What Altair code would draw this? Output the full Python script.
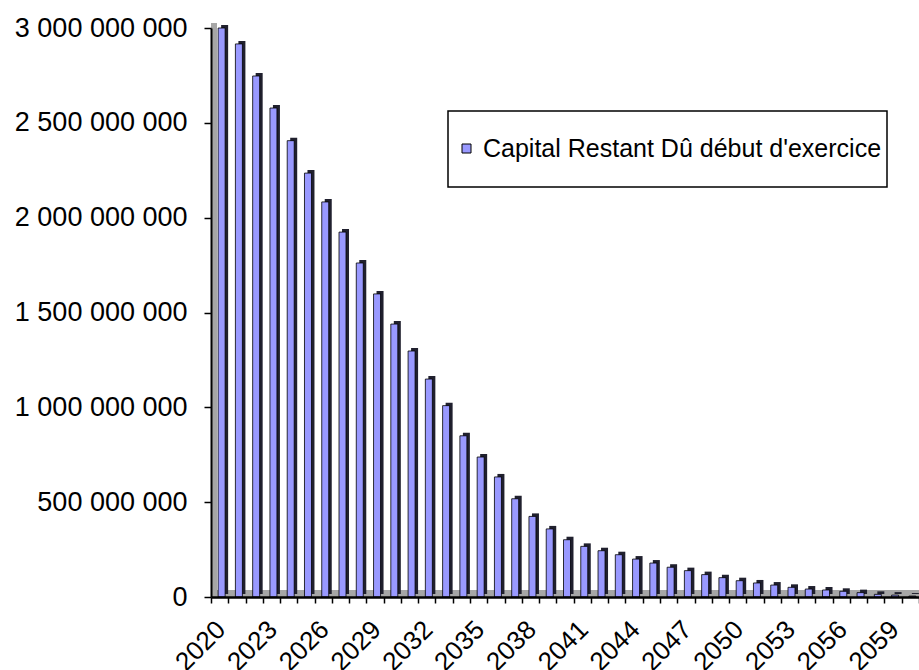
import altair as alt
import pandas as pd

# Capital restant dû en début d'exercice, par année
annees = list(range(2020, 2061))
capital_mds = [
    3.000, 2.916, 2.747, 2.578, 2.406, 2.235, 2.083, 1.924, 1.761, 1.598,
    1.439, 1.297, 1.149, 1.009, 0.850, 0.738, 0.633, 0.518, 0.425, 0.359,
    0.302, 0.267, 0.244, 0.223, 0.200, 0.179, 0.157, 0.139, 0.118, 0.102,
    0.086, 0.074, 0.063, 0.051, 0.042, 0.037, 0.030, 0.023, 0.014, 0.010,
    0.005,
]
serie = "Capital Restant Dû début d'exercice"
graduations = [0, 500_000_000, 1_000_000_000, 1_500_000_000,
               2_000_000_000, 2_500_000_000, 3_000_000_000]

df = pd.DataFrame({
    "annee": annees,
    "capital": [round(v * 1e9) for v in capital_mds],
    "serie": serie,
})

W, H = 708, 569
FONT = "Liberation Sans"

x_enc = alt.X(
    "annee:O",
    scale=alt.Scale(paddingInner=0, paddingOuter=0),
    axis=alt.Axis(
        title=None,
        labelExpr="(datum.value - 2020) % 3 == 0 ? datum.label : ''",
        labelAngle=-45,
        labelAlign="right",
        labelBaseline="top",
        labelFontSize=26,
        labelFont=FONT,
        labelColor="black",
        labelPadding=13,
        labelOffset=-8,
        labelOverlap=False,
        labelFlush=False,
        tickBand="extent",
        tickSize=6,
        tickColor="black",
        tickWidth=1.5,
        domainColor="black",
        domainWidth=2.5,
        zindex=2,
    ),
)
y_enc = alt.Y(
    "capital:Q",
    scale=alt.Scale(domain=[0, 3_000_000_000], nice=False),
    axis=alt.Axis(
        title=None,
        values=graduations,
        labelExpr="replace(format(datum.value, ','), regexp(',', 'g'), ' ')",
        labelFontSize=27,
        labelFont=FONT,
        labelColor="black",
        labelPadding=17,
        tickSize=7,
        tickColor="black",
        tickWidth=1.5,
        domainColor="black",
        domainWidth=2,
        grid=False,
        zindex=2,
    ),
)

base = alt.Chart(df)
one = alt.Chart(pd.DataFrame({"k": [0]}))

# sol et paroi gauche du graphique 3D
sol = one.mark_rect(color="#a6a6a6").encode(
    x=alt.value(0), x2=alt.value(W), y=alt.value(H - 7), y2=alt.value(H)
)
paroi = one.mark_rect(color="#a6a6a6").encode(
    x=alt.value(0), x2=alt.value(6), y=alt.value(-5), y2=alt.value(H)
)

# face latérale et dessus sombres des barres
profondeur = base.mark_bar(
    width=7, xOffset=5, yOffset=-3, color="#20202e"
).encode(x=x_enc, y=y_enc)

# face avant des barres
faces = base.mark_bar(
    width=7, xOffset=2, stroke="black", strokeWidth=0.8
).encode(
    x=x_enc,
    y=y_enc,
    color=alt.Color(
        "serie:N",
        scale=alt.Scale(range=["#9999FF"]),
        legend=alt.Legend(
            title=None,
            orient="none",
            legendX=243,
            legendY=108,
            padding=0,
            symbolType="square",
            symbolSize=81,
            symbolStrokeColor="black",
            symbolStrokeWidth=1,
            labelFontSize=25,
            labelFont=FONT,
            labelColor="black",
            labelOffset=4,
            labelLimit=600,
        ),
    ),
)

# cadre de la légende
cadre = one.mark_rect(fill="white", stroke="black", strokeWidth=1.5).encode(
    x=alt.value(237), x2=alt.value(676), y=alt.value(83), y2=alt.value(159)
)

chart = alt.layer(sol, paroi, profondeur, faces, cadre).properties(
    width=W,
    height=H,
    autosize=alt.AutoSizeParams(type="none"),
    padding={"left": 211, "top": 28, "right": 0, "bottom": 73},
    background="white",
).configure(font=FONT, view=alt.ViewConfig(stroke=None))

chart.save("out.html", embed_options={"renderer": "svg", "actions": False})
